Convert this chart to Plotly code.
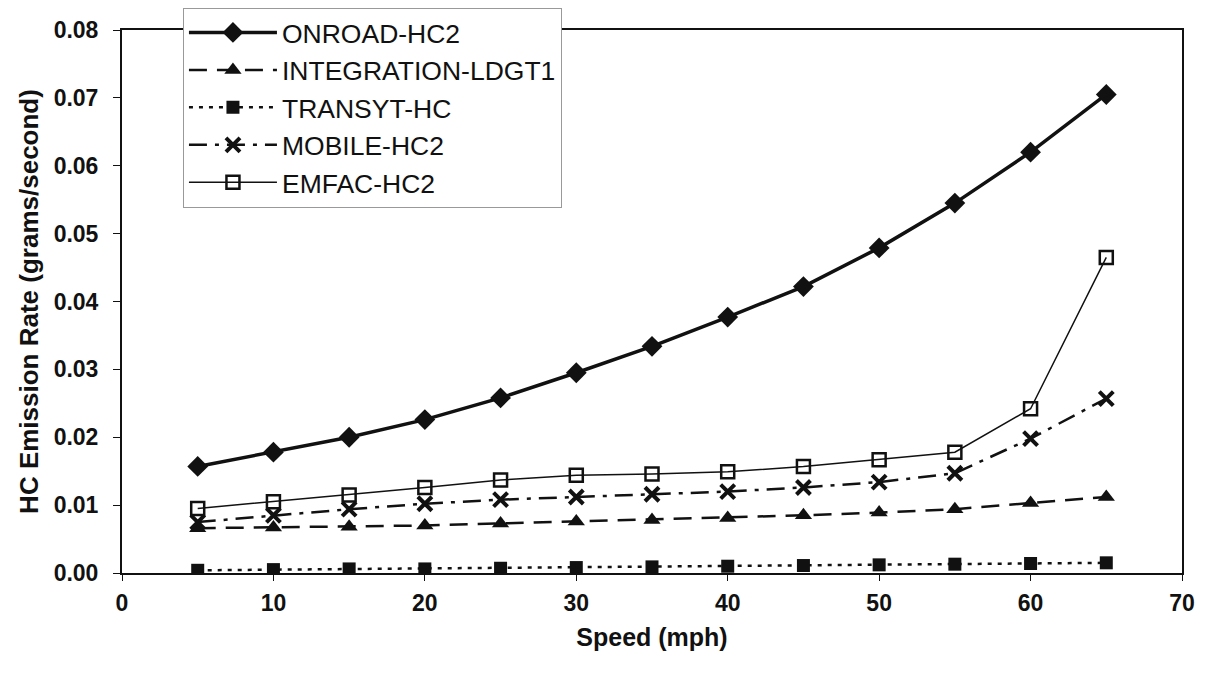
import plotly.graph_objects as go

speed = [5, 10, 15, 20, 25, 30, 35, 40, 45, 50, 55, 60, 65]

onroad = [0.0157, 0.0178, 0.0200, 0.0226, 0.0258, 0.0295, 0.0334, 0.0377, 0.0422, 0.0479, 0.0545, 0.0620, 0.0705]
integration = [0.0066, 0.0067, 0.0068, 0.0070, 0.0073, 0.0076, 0.0078, 0.0081, 0.0085, 0.0089, 0.0094, 0.0103, 0.0112]
transyt = [0.0004, 0.0005, 0.0006, 0.0006, 0.0007, 0.0008, 0.0009, 0.0010, 0.0011, 0.0012, 0.0013, 0.0014, 0.0015]
mobile = [0.0075, 0.0085, 0.0094, 0.0102, 0.0108, 0.0112, 0.0116, 0.0120, 0.0126, 0.0134, 0.0147, 0.0198, 0.0257]
emfac = [0.0095, 0.0105, 0.0115, 0.0126, 0.0137, 0.0144, 0.0146, 0.0149, 0.0157, 0.0167, 0.0178, 0.0242, 0.0465]

x_ticks = [0, 10, 20, 30, 40, 50, 60, 70]
y_ticks = [0.00, 0.01, 0.02, 0.03, 0.04, 0.05, 0.06, 0.07, 0.08]

FONT = "Liberation Sans, Arial, sans-serif"
BLACK = "#111111"

series = [
    ("ONROAD-HC2", onroad, dict(width=3.5, dash="solid"),
     dict(symbol="diamond", size=16, color=BLACK)),
    ("INTEGRATION-LDGT1", integration, dict(width=2.5, dash="18px,10px"),
     dict(symbol="triangle-up", size=15, color=BLACK)),
    ("TRANSYT-HC", transyt, dict(width=2.5, dash="4px,6px"),
     dict(symbol="square", size=13, color=BLACK)),
    ("MOBILE-HC2", mobile, dict(width=2.5, dash="18px,8px,4px,8px"),
     dict(symbol="x-thin-open", size=14, color=BLACK, line=dict(width=4, color=BLACK))),
    ("EMFAC-HC2", emfac, dict(width=1.5, dash="solid"),
     dict(symbol="square-open", size=13, color=BLACK, line=dict(width=2.5, color=BLACK))),
]

fig = go.Figure()
for i, (name, vals, line, marker) in enumerate(series):
    fig.add_trace(go.Scatter(
        x=speed, y=vals, name=name, mode="lines+markers",
        line=dict(color=BLACK, **line),
        marker=marker,
        legendgroup=f"g{i}",
    ))

# the page body adds an 8px offset, so margins are shifted to compensate
fig.update_layout(
    width=1209, height=673,
    paper_bgcolor="white", plot_bgcolor="white",
    font=dict(family=FONT, color=BLACK),
    margin=dict(l=114, r=35, t=22, b=108, autoexpand=False),
    showlegend=True,
    legend=dict(
        x=0.0575, y=1.041, xanchor="left", yanchor="top",
        bgcolor="white", bordercolor="#999999", borderwidth=1,
        font=dict(size=26.5, family=FONT, color=BLACK),
        itemwidth=88, tracegroupgap=0, traceorder="grouped",
    ),
    xaxis=dict(
        range=[0, 70], tickvals=x_ticks, showgrid=False, zeroline=False,
        showline=True, linecolor=BLACK, linewidth=2, mirror=True,
        ticks="outside", ticklen=6, tickcolor=BLACK,
        tickfont=dict(size=23, family=FONT, weight="bold"), ticklabelstandoff=2,
        title=dict(text="Speed (mph)", font=dict(size=25, weight="bold"), standoff=14),
    ),
    yaxis=dict(
        range=[0, 0.08], tickvals=y_ticks, tickformat=".2f",
        showgrid=False, zeroline=False,
        showline=True, linecolor=BLACK, linewidth=2, mirror=True,
        ticks="outside", ticklen=7, tickcolor=BLACK,
        tickfont=dict(size=23, family=FONT, weight="bold"), ticklabelstandoff=10,
        title=dict(text="HC Emission Rate (grams/second)", font=dict(size=26, weight="bold"), standoff=8),
    ),
)

fig.write_html("out.html")
